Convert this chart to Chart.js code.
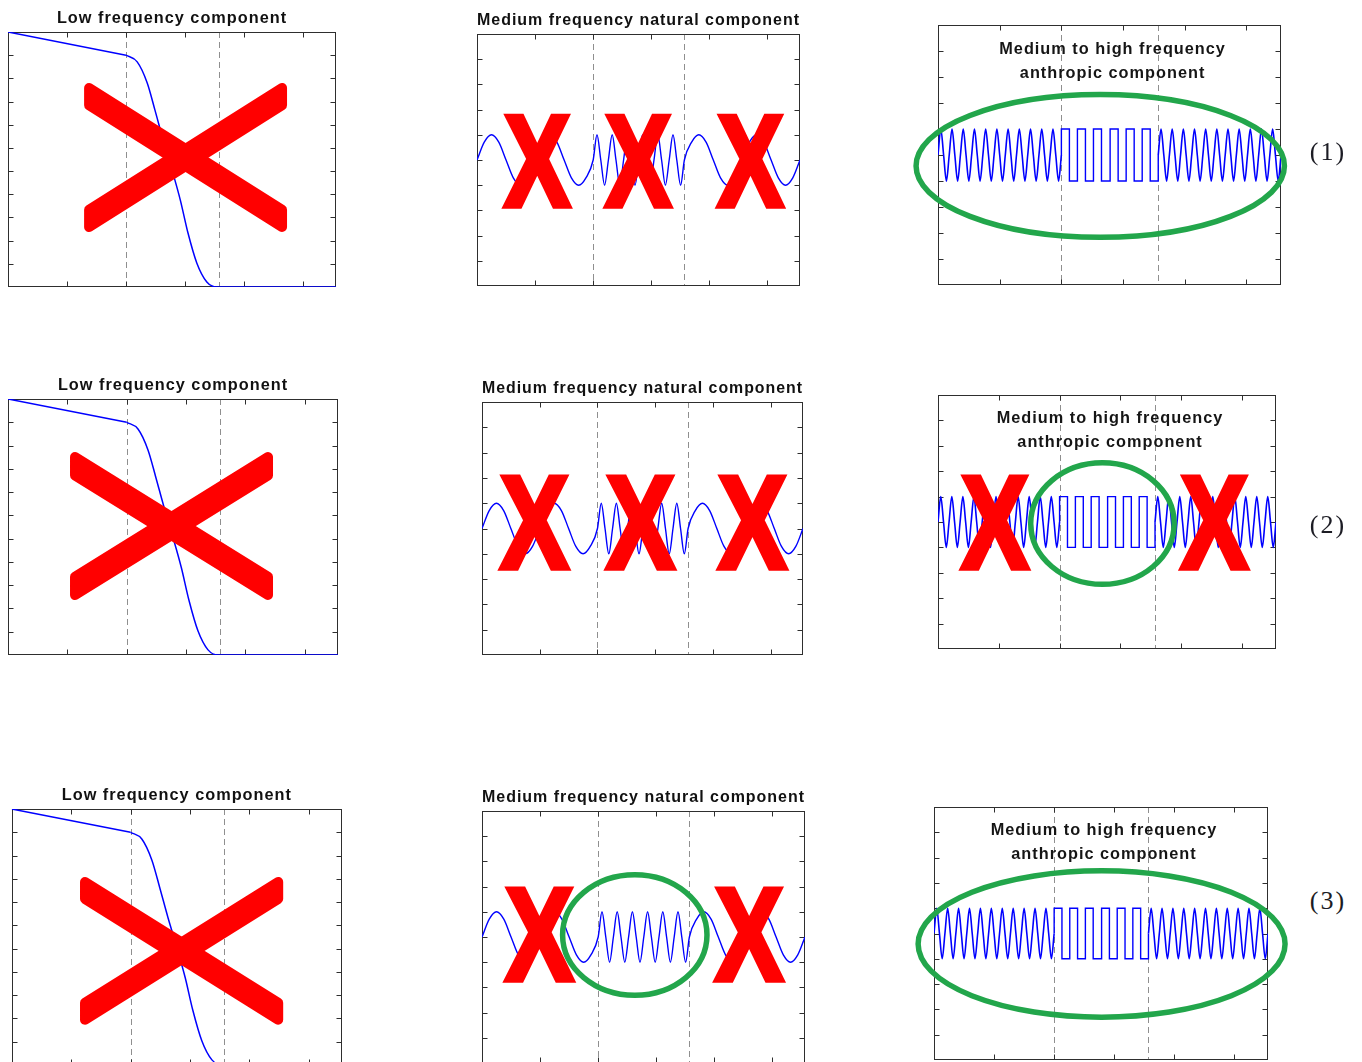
<!DOCTYPE html>
<html>
<head>
<meta charset="utf-8">
<title>Signal components</title>
<script src="https://cdn.jsdelivr.net/npm/chart.js@4.4.1/dist/chart.umd.min.js"></script>
<style>
  html, body { margin: 0; padding: 0; background: #ffffff; overflow: hidden; }
  #fig { position: relative; width: 1362px; height: 1062px; overflow: hidden; background: #ffffff; }
  #fig canvas { position: absolute; }
  .tag {
    position: absolute;
    font-family: "Liberation Serif", "Times New Roman", serif;
    font-size: 26px;
    letter-spacing: 2px;
    color: #1c1c24;
    transform: translate(-50%, -50%);
    white-space: nowrap;
  }
</style>
</head>
<body>
<div id="fig"></div>
<script>
// ---------- signal data ----------
// time axis: segment boundaries (also where the dashed markers sit)
const segmentBounds = [0, 2, 3.57, 5.56];
const markerX = [2, 3.57];

// axis tick positions
const xTickValues = [0, 1, 2, 3, 4, 5];
const lowTickValues = [0, 1, 2, 3, 4, 5, 6, 7, 8, 9, 10, 11];
const waveTickValues = [-5, -4, -3, -2, -1, 0, 1, 2, 3, 4, 5];

// low frequency trend: slow linear decline, then a smooth drop to zero
const lowRampX = [0, 2];
const lowRampY = [11, 10];
const lowDropX = [2, 2.19, 2.36, 2.49, 2.63, 2.78, 2.92, 3.05, 3.20, 3.37, 3.54, 5.56];
const lowDropY = [10, 9.71, 8.80, 7.64, 6.34, 5.05, 3.76, 2.34, 1.04, 0.22, 0, 0];

// medium frequency natural component (evenly spaced samples per segment)
const natSlowA = [0, 0.71, 1, 0.71, 0, -0.71, -1, -0.71, 0, 0.71, 1, 0.71, 0, -0.71, -1, -0.71, 0];
const natFast  = [0, 1, 0, -1, 0, 1, 0, -1, 0, 1, 0, -1, 0, 1, 0, -1, 0, 1, 0, -1, 0, 1, 0, -1, 0];
const natSlowB = [0, 0.71, 1, 0.71, 0, -0.71, -1, -0.71, 0, 0.71, 1, 0.71, 0, -0.71, -1, -0.71, 0];

// medium to high frequency anthropic component
const anthToneA = [0, 1, 0, -1, 0, 1, 0, -1, 0, 1, 0, -1, 0, 1, 0, -1, 0, 1, 0, -1, 0, 1, 0, -1,
                   0, 1, 0, -1, 0, 1, 0, -1, 0, 1, 0, -1, 0, 1, 0, -1, 0, 1, 0, -1, 0];
const anthSquareEdges  = [2.00, 2.13, 2.26, 2.39, 2.52, 2.65, 2.79, 2.92, 3.05, 3.18, 3.31, 3.44, 3.57];
const anthSquareLevels = [1, -1, 1, -1, 1, -1, 1, -1, 1, -1, 1, -1];
const anthToneB = [0, 1, 0, -1, 0, 1, 0, -1, 0, 1, 0, -1, 0, 1, 0, -1, 0, 1, 0, -1, 0, 1, 0, -1,
                   0, 1, 0, -1, 0, 1, 0, -1, 0, 1, 0, -1, 0, 1, 0, -1, 0, 1, 0, -1, 0];

// text
const titleLow = 'Low frequency component';
const titleNat = 'Medium frequency natural component';
const titleAnth = ['Medium to high frequency', 'anthropic component'];
const rowTags = ['(1)', '(2)', '(3)'];

// ---------- series builders ----------
function sampled(x0, x1, vals) {
  const n = vals.length - 1;
  return vals.map((v, i) => ({ x: x0 + (x1 - x0) * i / n, y: v }));
}
const pairs = (xs, ys) => xs.map((x, i) => ({ x, y: ys[i] }));
const lowRamp = pairs(lowRampX, lowRampY);
const lowDrop = pairs(lowDropX, lowDropY);
const natPoints = [
  ...sampled(segmentBounds[0], segmentBounds[1], natSlowA),
  ...sampled(segmentBounds[1], segmentBounds[2], natFast).slice(1),
  ...sampled(segmentBounds[2], segmentBounds[3], natSlowB).slice(1)
];
const anthPointsA = sampled(segmentBounds[0], segmentBounds[1], anthToneA);
const anthPointsB = sampled(segmentBounds[2], segmentBounds[3], anthToneB);
const anthSquare = [{ x: anthSquareEdges[0], y: 0 }];
anthSquareLevels.forEach((lv, i) => anthSquare.push({ x: anthSquareEdges[i], y: lv }));
anthSquare.push({ x: anthSquareEdges[anthSquareEdges.length - 1], y: anthSquareLevels[anthSquareLevels.length - 1] });
anthSquare.push({ x: anthSquareEdges[anthSquareEdges.length - 1], y: 0 });

// ---------- styles ----------
const BLUE = '#0000ff';
const RED = '#ff0000';
const GREEN = '#22a64b';
const TITLE_FONT = { family: '"Liberation Sans", Arial, Helvetica, sans-serif', size: 16.3, weight: 'bold' };

// ---------- layout of the nine panels (plot area: left, top, right, bottom) ----------
const panels = [
  { kind: 'low',  rect: [8, 32, 336, 287],      cross: { x0: 1.29, x1: 4.73, yTop: 8.8, yBot: 2.37, band: 1.18 } },
  { kind: 'nat',  rect: [477, 34, 800, 286],    letters: { y: 0, h: 3.81, w: 1.2, xs: [1.03, 2.77, 4.70] } },
  { kind: 'anth', rect: [938, 25, 1281, 285],   rings: [{ cx: 2.63, cy: -0.42, rx: 3.03, ry: 2.85 }] },

  { kind: 'low',  rect: [8, 399, 338, 655],     cross: { x0: 1.045, x1: 4.465, yTop: 8.72, yBot: 2.36, band: 1.22 } },
  { kind: 'nat',  rect: [482, 402, 803, 655],   letters: { y: 0.27, h: 3.83, w: 1.25, xs: [0.90, 2.74, 4.68] } },
  { kind: 'anth', rect: [938, 395, 1276, 649],  letters: { y: 0.02, h: 3.82, w: 1.17, xs: [0.93, 4.54] },
                                                rings: [{ cx: 2.705, cy: -0.06, rx: 1.225, ry: 2.5 }] },

  { kind: 'low',  rect: [11.7, 809, 341.7, 1065], cross: { x0: 1.15, x1: 4.57, yTop: 8.08, yBot: 1.73, band: 1.16 } },
  { kind: 'nat',  rect: [482, 811, 805, 1063],  letters: { y: 0.13, h: 3.85, w: 1.24, xs: [0.98, 4.59] },
                                                rings: [{ cx: 2.63, cy: 0.08, rx: 1.29, ry: 2.5 }] },
  { kind: 'anth', rect: [934, 807, 1268, 1060], rings: [{ cx: 2.79, cy: -0.415, rx: 3.10, ry: 3.0 }] }
];
const tagPositions = [[1328, 152], [1328, 525], [1328, 901]];

// ---------- drawing helpers ----------
function drawGlyphX(ctx, cx, cy, w, h) {
  const stroke = 5;
  ctx.save();
  ctx.font = 'bold 100px "Liberation Sans", Arial, sans-serif';
  ctx.letterSpacing = '0px';
  ctx.textAlign = 'left';
  ctx.textBaseline = 'alphabetic';
  const m = ctx.measureText('X');
  const gw = m.actualBoundingBoxLeft + m.actualBoundingBoxRight;
  const gh = m.actualBoundingBoxAscent + m.actualBoundingBoxDescent;
  const sx = (w - stroke) / gw, sy = (h - stroke) / gh;
  ctx.translate(cx, cy);
  ctx.scale(sx, sy);
  const tx = (m.actualBoundingBoxLeft - m.actualBoundingBoxRight) / 2;
  const ty = (m.actualBoundingBoxAscent - m.actualBoundingBoxDescent) / 2;
  ctx.fillStyle = RED;
  ctx.strokeStyle = RED;
  ctx.lineJoin = 'miter';
  ctx.miterLimit = 3;
  ctx.lineWidth = stroke / ((sx + sy) / 2);
  ctx.fillText('X', tx, ty);
  ctx.strokeText('X', tx, ty);
  ctx.restore();
}

function drawCross(ctx, x0, x1, yT, yB, band) {
  const r = 5;
  const bars = [
    [[x0 + r, yT + r], [x1 - r, yB - band + r], [x1 - r, yB - r], [x0 + r, yT + band - r]],
    [[x0 + r, yB - band + r], [x1 - r, yT + r], [x1 - r, yT + band - r], [x0 + r, yB - r]]
  ];
  ctx.save();
  ctx.fillStyle = RED;
  ctx.strokeStyle = RED;
  ctx.lineWidth = 2 * r;
  ctx.lineJoin = 'round';
  for (const pts of bars) {
    ctx.beginPath();
    ctx.moveTo(pts[0][0], pts[0][1]);
    for (let i = 1; i < pts.length; i++) ctx.lineTo(pts[i][0], pts[i][1]);
    ctx.closePath();
    ctx.fill();
    ctx.stroke();
  }
  ctx.restore();
}

// axes box with inward ticks and dashed segment markers
function framePlugin() {
  return {
    id: 'frame',
    beforeDatasetsDraw(chart) {
      const { ctx, chartArea: a, scales: { x, y } } = chart;
      ctx.save();
      ctx.letterSpacing = '0px';
      ctx.lineWidth = 1;
      ctx.strokeStyle = '#8f8f8f';
      ctx.setLineDash([6, 4]);
      ctx.beginPath();
      for (const v of markerX) {
        const p = Math.round(x.getPixelForValue(v)) + 0.5;
        ctx.moveTo(p, a.top);
        ctx.lineTo(p, a.bottom);
      }
      ctx.stroke();
      ctx.setLineDash([]);
      const L = Math.round(a.left) + 0.5, R = Math.round(a.right) - 0.5;
      const T = Math.round(a.top) + 0.5, B = Math.round(a.bottom) - 0.5;
      ctx.strokeStyle = '#2e2e2e';
      ctx.strokeRect(L, T, R - L, B - T);
      const tl = 5;
      ctx.beginPath();
      for (const t of x.ticks) {
        const p = Math.round(x.getPixelForValue(t.value)) + 0.5;
        if (p <= L + 1 || p >= R - 1) continue;
        ctx.moveTo(p, B); ctx.lineTo(p, B - tl);
        ctx.moveTo(p, T); ctx.lineTo(p, T + tl);
      }
      for (const t of y.ticks) {
        const p = Math.round(y.getPixelForValue(t.value)) + 0.5;
        if (p <= T + 1 || p >= B - 1) continue;
        ctx.moveTo(L, p); ctx.lineTo(L + tl, p);
        ctx.moveTo(R, p); ctx.lineTo(R - tl, p);
      }
      ctx.stroke();
      ctx.restore();
    }
  };
}

// strike marks, highlight rings and the in-axes caption
function marksPlugin(spec) {
  return {
    id: 'marks',
    beforeDraw(chart) { chart.ctx.letterSpacing = '1px'; },
    beforeDatasetsDraw(chart) { chart.ctx.letterSpacing = '0px'; },
    afterDraw(chart) {
      const { ctx, scales: { x, y } } = chart;
      if (spec.kind === 'anth') {
        ctx.save();
        ctx.font = `bold ${TITLE_FONT.size}px ${TITLE_FONT.family}`;
        ctx.letterSpacing = '1px';
        ctx.fillStyle = '#151515';
        ctx.textAlign = 'center';
        ctx.textBaseline = 'middle';
        ctx.fillText(titleAnth[0], x.getPixelForValue(2.83), y.getPixelForValue(4.07));
        ctx.fillText(titleAnth[1], x.getPixelForValue(2.83), y.getPixelForValue(3.13));
        ctx.restore();
      }
      if (spec.cross) {
        const c = spec.cross;
        const x0 = x.getPixelForValue(c.x0), x1 = x.getPixelForValue(c.x1);
        const yT = y.getPixelForValue(c.yTop), yB = y.getPixelForValue(c.yBot);
        const band = Math.abs(y.getPixelForValue(0) - y.getPixelForValue(c.band));
        drawCross(ctx, x0, x1, yT, yB, band);
      }
      if (spec.rings) {
        ctx.save();
        ctx.strokeStyle = GREEN;
        ctx.lineWidth = 5.5;
        for (const r of spec.rings) {
          const cx = x.getPixelForValue(r.cx), cy = y.getPixelForValue(r.cy);
          const rx = Math.abs(x.getPixelForValue(r.cx + r.rx) - cx) - 2.75;
          const ry = Math.abs(y.getPixelForValue(r.cy + r.ry) - cy) - 2.75;
          ctx.beginPath();
          ctx.ellipse(cx, cy, rx, ry, 0, 0, Math.PI * 2);
          ctx.stroke();
        }
        ctx.restore();
      }
      if (spec.letters) {
        const l = spec.letters;
        const w = Math.abs(x.getPixelForValue(l.w) - x.getPixelForValue(0));
        const h = Math.abs(y.getPixelForValue(l.h) - y.getPixelForValue(0));
        for (const cxv of l.xs) {
          drawGlyphX(ctx, x.getPixelForValue(cxv), y.getPixelForValue(l.y), w, h);
        }
      }
    }
  };
}

// ---------- build panels ----------
const fig = document.getElementById('fig');

function datasetsFor(kind) {
  if (kind === 'low') {
    return [
      { data: lowRamp, borderColor: BLUE, borderWidth: 1.5, tension: 0 },
      { data: lowDrop, borderColor: BLUE, borderWidth: 1.5, cubicInterpolationMode: 'monotone' }
    ];
  }
  if (kind === 'nat') {
    return [{ data: natPoints, borderColor: BLUE, borderWidth: 1.4, cubicInterpolationMode: 'monotone' }];
  }
  return [
    { data: anthPointsA, borderColor: BLUE, borderWidth: 1.6, cubicInterpolationMode: 'monotone' },
    { data: anthSquare, borderColor: BLUE, borderWidth: 1.4, stepped: 'before' },
    { data: anthPointsB, borderColor: BLUE, borderWidth: 1.6, cubicInterpolationMode: 'monotone' }
  ];
}

panels.forEach((spec) => {
  const [l, t, r, b] = spec.rect;
  const hasTitle = spec.kind !== 'anth';
  const padL = spec.kind === 'low' ? l : 40;
  const padR = 40;
  const padT = hasTitle ? 40 : 20;
  const padB = 20;
  const titleBox = 16.3 * 1.2 + 3.7;
  const canvas = document.createElement('canvas');
  const cw = Math.round(r - l + padL + padR);
  const ch = Math.round(b - t + padT + padB);
  canvas.width = cw;
  canvas.height = ch;
  canvas.style.left = (l - padL) + 'px';
  canvas.style.top = (t - padT) + 'px';
  canvas.style.width = cw + 'px';
  canvas.style.height = ch + 'px';
  fig.appendChild(canvas);

  const yTicks = spec.kind === 'low' ? lowTickValues : waveTickValues;
  new Chart(canvas, {
    type: 'line',
    data: { datasets: datasetsFor(spec.kind) },
    options: {
      responsive: false,
      animation: false,
      devicePixelRatio: 1,
      events: [],
      layout: {
        autoPadding: false,
        padding: { left: padL, right: padR, top: hasTitle ? padT - titleBox : padT, bottom: padB }
      },
      elements: { point: { radius: 0 }, line: { tension: 0 } },
      plugins: {
        legend: { display: false },
        tooltip: { enabled: false },
        title: {
          display: hasTitle,
          text: spec.kind === 'low' ? titleLow : titleNat,
          color: '#111111',
          font: TITLE_FONT,
          padding: { top: 0, bottom: 3.7 }
        }
      },
      scales: {
        x: {
          type: 'linear', min: segmentBounds[0], max: segmentBounds[3],
          afterBuildTicks: (s) => { s.ticks = xTickValues.map((v) => ({ value: v })); },
          ticks: { display: false },
          grid: { display: false, drawTicks: false },
          border: { display: false }
        },
        y: {
          type: 'linear',
          min: spec.kind === 'low' ? 0 : -5,
          max: spec.kind === 'low' ? 11 : 5,
          afterBuildTicks: (s) => { s.ticks = yTicks.map((v) => ({ value: v })); },
          ticks: { display: false },
          grid: { display: false, drawTicks: false },
          border: { display: false }
        }
      }
    },
    plugins: [framePlugin(), marksPlugin(spec)]
  });
});

rowTags.forEach((txt, i) => {
  const d = document.createElement('div');
  d.className = 'tag';
  d.textContent = txt;
  d.style.left = tagPositions[i][0] + 'px';
  d.style.top = tagPositions[i][1] + 'px';
  fig.appendChild(d);
});
</script>
</body>
</html>
